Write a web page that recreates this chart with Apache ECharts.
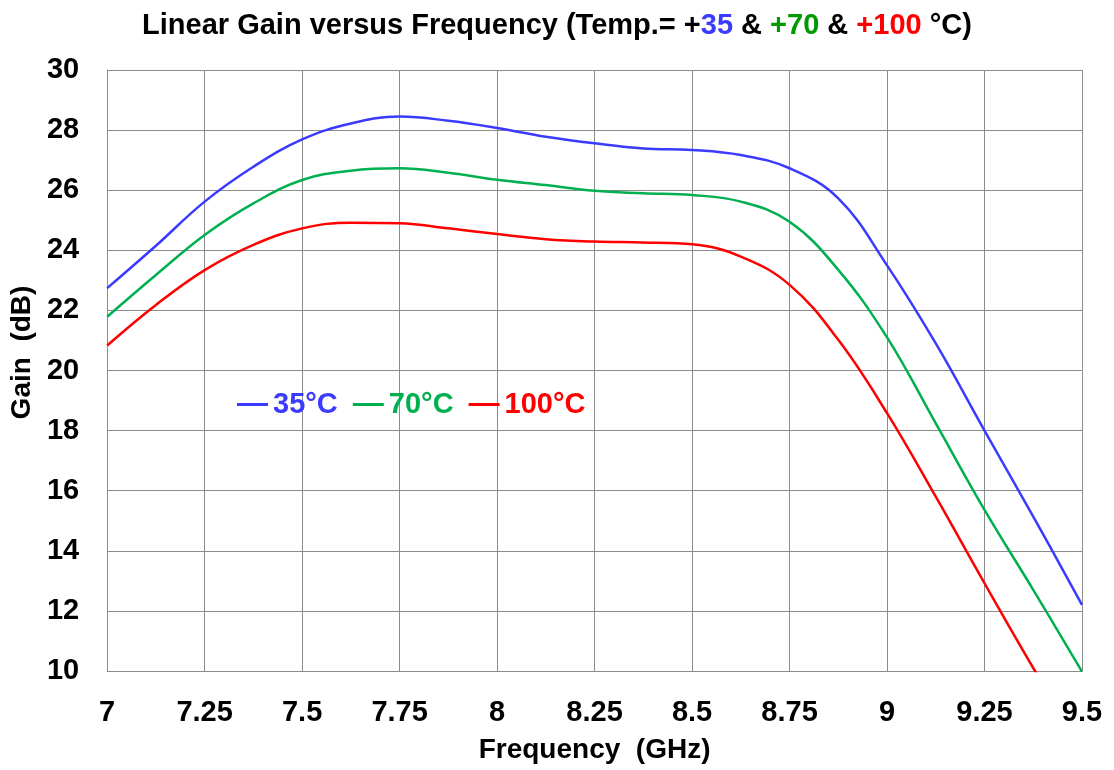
<!DOCTYPE html>
<html>
<head>
<meta charset="utf-8">
<script src="https://cdn.jsdelivr.net/npm/echarts@6/dist/echarts.min.js"></script>
<style>html,body{margin:0;padding:0;background:#fff;}#c{width:1114px;height:770px;}</style>
</head>
<body>
<div id="c"></div>
<script>
const freq = [7, 7.125, 7.25, 7.375, 7.5, 7.625, 7.75, 7.875, 8, 8.125, 8.25, 8.375, 8.5, 8.625, 8.75, 8.875, 9, 9.125, 9.25, 9.375, 9.5];
const gain35 = [22.74, 24.15, 25.62, 26.78, 27.69, 28.22, 28.45, 28.31, 28.07, 27.78, 27.56, 27.39, 27.34, 27.17, 26.73, 25.73, 23.5, 20.9, 18.0, 15.14, 12.2];
const gain70 = [21.79, 23.18, 24.51, 25.56, 26.34, 26.65, 26.73, 26.58, 26.35, 26.17, 25.98, 25.90, 25.84, 25.62, 24.95, 23.35, 21.1, 18.24, 15.36, 12.7, 9.98];
const gain100 = [20.83, 22.18, 23.34, 24.18, 24.73, 24.92, 24.90, 24.73, 24.54, 24.37, 24.29, 24.26, 24.20, 23.79, 22.85, 21.02, 18.58, 15.8, 12.92, 10.1, 7.4];
const seriesNames = ['35°C', '70°C', '100°C'];
const colors = ['#3b3bff', '#00b050', '#ff0000'];

const FF = '"Liberation Sans", Arial, sans-serif';
const pairs = arr => freq.map((f, i) => [f, arr[i]]);
const chart = echarts.init(document.getElementById('c'));
chart.setOption({
  backgroundColor: '#fff',
  animation: false,
  title: {
    left: 'center',
    top: 6,
    text: '{b|Linear Gain versus Frequency (Temp.= +}{bl|35}{b| & }{gr|+70}{b| & }{rd|+100}{b| °C)}',
    textStyle: {
      fontFamily: FF,
      rich: {
        b: {fontFamily: FF, fontSize: 29, fontWeight: 'bold', color: '#000'},
        bl: {fontFamily: FF, fontSize: 29, fontWeight: 'bold', color: '#3b3bff'},
        gr: {fontFamily: FF, fontSize: 29, fontWeight: 'bold', color: '#009900'},
        rd: {fontFamily: FF, fontSize: 29, fontWeight: 'bold', color: '#ff0000'}
      }
    }
  },
  legend: {
    left: 237,
    top: 390,
    padding: 0,
    icon: 'rect',
    itemWidth: 31,
    itemHeight: 3,
    itemGap: 15,
    textStyle: {fontFamily: FF, fontSize: 29, fontWeight: 'bold'},
    data: seriesNames.map((n, i) => ({name: n, textStyle: {color: colors[i]}}))
  },
  grid: {left: 105, right: 32, top: 70, bottom: 99, containLabel: false},
  xAxis: {
    type: 'value',
    min: 7, max: 9.5, interval: 0.25,
    name: 'Frequency  (GHz)',
    nameLocation: 'middle',
    nameGap: 65,
    nameTextStyle: {fontFamily: FF, fontSize: 28, fontWeight: 'bold', color: '#000'},
    axisLine: {show: true, lineStyle: {color: '#8c8c8c', width: 1}},
    axisTick: {show: false},
    axisLabel: {fontFamily: FF, fontSize: 29, fontWeight: 'bold', color: '#000', margin: 27},
    splitLine: {show: true, lineStyle: {color: '#8c8c8c', width: 1}}
  },
  yAxis: {
    type: 'value',
    min: 10, max: 30, interval: 2,
    name: 'Gain  (dB)',
    nameLocation: 'middle',
    nameGap: 66,
    nameTextStyle: {fontFamily: FF, fontSize: 28, fontWeight: 'bold', color: '#000', padding: [0, 0, 0, 36]},
    axisLine: {show: true, lineStyle: {color: '#8c8c8c', width: 1}},
    axisTick: {show: false},
    axisLabel: {fontFamily: FF, fontSize: 29, fontWeight: 'bold', color: '#000', margin: 28},
    splitLine: {show: true, lineStyle: {color: '#8c8c8c', width: 1}}
  },
  series: [gain35, gain70, gain100].map((arr, i) => ({
    name: seriesNames[i],
    type: 'line',
    data: pairs(arr),
    smooth: 0.4,
    showSymbol: false,
    symbol: 'none',
    clip: true,
    lineStyle: {color: colors[i], width: 2.5},
    itemStyle: {color: colors[i]}
  }))
});
</script>
</body>
</html>
